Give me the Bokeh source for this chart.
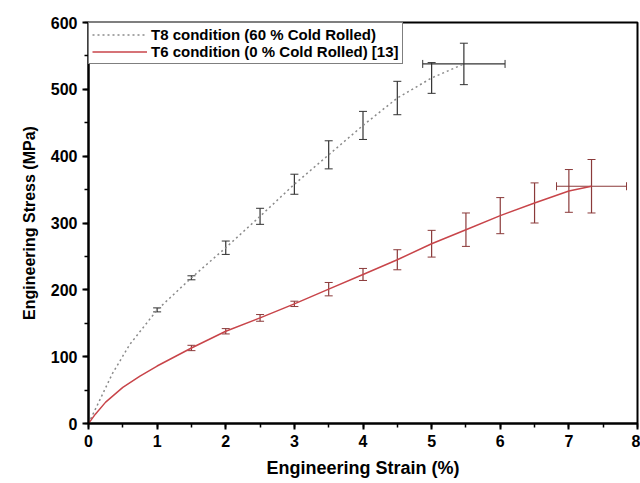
from bokeh.plotting import figure
from bokeh.models import Range1d, Whisker, ColumnDataSource, Legend, LegendItem
from bokeh.embed import file_html
from bokeh.resources import INLINE

# T8 condition (60 % cold rolled) - curve and error-bar points
t8_curve_strain = [0, 0.15, 0.35, 0.6, 1.0, 1.5, 2.0, 2.5, 3.0, 3.5, 4.0, 4.5, 5.0, 5.47]
t8_curve_stress = [0, 32, 75, 118, 170, 218, 263, 310, 358, 402, 446, 487, 517, 538]
t8_err_strain = [1.0, 1.5, 2.0, 2.5, 3.0, 3.5, 4.0, 4.5, 5.0, 5.47]
t8_err_stress = [170, 218, 263, 310, 358, 402, 446, 487, 517, 538]
t8_err_dy = [3, 3, 10, 12, 15, 21, 21, 25, 23, 31]
t8_end_strain = [5.47]
t8_end_stress = [538]
t8_end_dx = [0.6]

# T6 condition (0 % cold rolled) [13]
t6_curve_strain = [0, 0.1, 0.25, 0.5, 0.75, 1.0, 1.5, 2.0, 2.5, 3.0, 3.5, 4.0, 4.5, 5.0, 5.5, 6.0, 6.5, 7.0, 7.33]
t6_curve_stress = [0, 14, 32, 54, 71, 86, 113, 138, 158, 179, 201, 223, 245, 269, 290, 311, 330, 348, 355]
t6_err_strain = [1.5, 2.0, 2.5, 3.0, 3.5, 4.0, 4.5, 5.0, 5.5, 6.0, 6.5, 7.0, 7.33]
t6_err_stress = [113, 138, 158, 179, 201, 223, 245, 269, 290, 311, 330, 348, 355]
t6_err_dy = [4, 4, 5, 4, 10, 9, 15, 20, 25, 27, 30, 32, 40]
t6_end_strain = [7.33]
t6_end_stress = [355]
t6_end_dx = [0.51]

FONT = "Liberation Sans"

p = figure(width=640, height=483, output_backend="svg", toolbar_location=None,
           x_range=Range1d(0, 8), y_range=Range1d(0, 600),
           min_border_left=88, min_border_right=3, min_border_top=22, min_border_bottom=60)
p.background_fill_color = "white"
p.border_fill_color = "white"
p.outline_line_color = "black"
p.outline_line_width = 2
p.xgrid.visible = False
p.ygrid.visible = False

for ax in (p.xaxis[0], p.yaxis[0]):
    ax.axis_line_width = 2
    ax.axis_line_color = "black"
    ax.major_tick_in = 0
    ax.major_tick_out = 6
    ax.minor_tick_in = 0
    ax.minor_tick_out = 4
    ax.major_tick_line_width = 2
    ax.minor_tick_line_width = 1.5
    ax.minor_tick_line_color = "black"
    ax.major_label_text_font = FONT
    ax.major_label_text_font_style = "bold"
    ax.major_label_text_font_size = "16px"
    ax.major_label_text_color = "black"
    ax.axis_label_text_font = FONT
    ax.axis_label_text_font_style = "bold"
    ax.axis_label_text_color = "black"

p.xaxis[0].axis_label_text_font_size = "18px"
p.yaxis[0].axis_label_text_font_size = "16px"
p.xaxis.ticker.desired_num_ticks = 8
p.xaxis[0].ticker.num_minor_ticks = 2
p.yaxis[0].ticker.num_minor_ticks = 2
p.xaxis.axis_label = "Engineering Strain (%)"
p.yaxis.axis_label = "Engineering Stress (MPa)"
p.xaxis.axis_label_standoff = 8
p.yaxis.axis_label_standoff = 10

# lines
t8_line = p.line(t8_curve_strain, t8_curve_stress, line_color="#8a8a8a", line_width=1.5, line_dash="2 3")
t6_line = p.line(t6_curve_strain, t6_curve_stress, line_color="#c8454a", line_width=1.5)

def add_whisker(src, base, dim, color):
    w = Whisker(source=src, base=base, lower="lo", upper="hi", dimension=dim,
                line_color=color, line_width=1.2)
    w.upper_head.size = 8
    w.lower_head.size = 8
    w.upper_head.line_color = color
    w.lower_head.line_color = color
    p.add_layout(w)

# vertical error bars
add_whisker(ColumnDataSource(dict(x=t8_err_strain,
                                  lo=[s - d for s, d in zip(t8_err_stress, t8_err_dy)],
                                  hi=[s + d for s, d in zip(t8_err_stress, t8_err_dy)])),
            "x", "height", "#333333")
add_whisker(ColumnDataSource(dict(x=t6_err_strain,
                                  lo=[s - d for s, d in zip(t6_err_stress, t6_err_dy)],
                                  hi=[s + d for s, d in zip(t6_err_stress, t6_err_dy)])),
            "x", "height", "#8b3a3a")

# horizontal error bars at last points
add_whisker(ColumnDataSource(dict(y=t8_end_stress,
                                  lo=[s - d for s, d in zip(t8_end_strain, t8_end_dx)],
                                  hi=[s + d for s, d in zip(t8_end_strain, t8_end_dx)])),
            "y", "width", "#333333")
add_whisker(ColumnDataSource(dict(y=t6_end_stress,
                                  lo=[s - d for s, d in zip(t6_end_strain, t6_end_dx)],
                                  hi=[s + d for s, d in zip(t6_end_strain, t6_end_dx)])),
            "y", "width", "#8b3a3a")

legend = Legend(items=[
    LegendItem(label="T8 condition (60 % Cold Rolled)", renderers=[t8_line]),
    LegendItem(label="T6 condition (0 % Cold Rolled) [13]", renderers=[t6_line]),
], location="top_left")
legend.margin = 0
legend.padding = 3
legend.spacing = 0
legend.glyph_width = 55
legend.glyph_height = 17
legend.label_height = 17
legend.label_standoff = 4
legend.label_text_font = FONT
legend.label_text_font_style = "bold"
legend.label_text_font_size = "15px"
legend.label_text_color = "black"
legend.border_line_color = "black"
legend.border_line_width = 1.5
legend.background_fill_color = "white"
legend.background_fill_alpha = 1
p.add_layout(legend)

open("out.html", "w").write(file_html(p, INLINE))
